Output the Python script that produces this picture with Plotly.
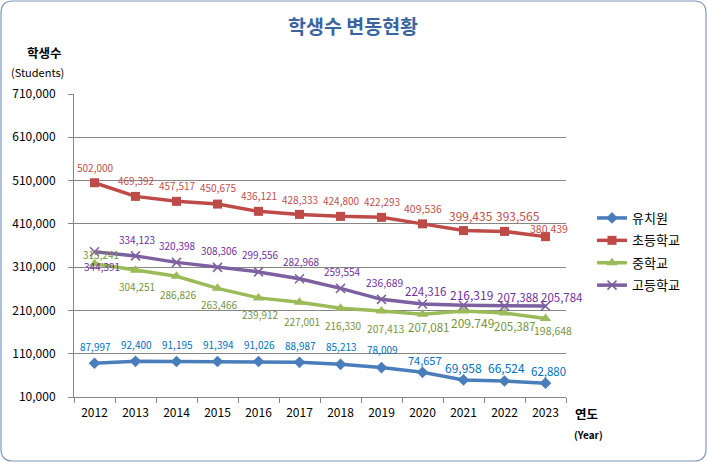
import plotly.graph_objects as go

years = ["2012", "2013", "2014", "2015", "2016", "2017", "2018", "2019", "2020", "2021", "2022", "2023"]

# plotted values
kinder_vals = [88000, 92400, 92000, 92000, 92000, 90000, 85500, 78000, 67000, 49500, 47000, 42000]
elem_vals = [505000, 473500, 462000, 455700, 438900, 431900, 427300, 425000, 410000, 394500, 392500, 380500]
middle_vals = [318000, 303000, 289000, 261000, 239000, 229000, 214800, 208600, 201000, 208700, 204000, 191500]
high_vals = [345600, 336000, 321000, 309500, 299000, 283000, 261000, 235600, 225000, 222000, 220000, 220000]

# data label texts (as printed on the chart)
kinder_labels = ["87,997", "92,400", "91,195", "91,394", "91,026", "88,987", "85,213", "78,009", "74,657", "69,958", "66,524", "62,880"]
elem_labels = ["502,000", "469,392", "457,517", "450,675", "436,121", "428,333", "424,800", "422,293", "409,536", "399,435", "393,565", "380,439"]
middle_labels = ["315,241", "304,251", "286,826", "263,466", "239,912", "227,001", "216,330", "207,413", "207,081", "209.749", "205,387", "198,648"]
high_labels = ["344,391", "334,123", "320,398", "308,306", "299,556", "282,968", "259,554", "236,689", "224,316", "216,319", "207,388", "205,784"]

series_names = ["유치원", "초등학교", "중학교", "고등학교"]

# label placement (pixel offsets from each marker) and label font sizes -- styling only
kinder_dx = [1, 0.5, 1, 1, 1, 1, 1, 1, 2.5, -0.5, 1.5, 2.5]
kinder_dy = [-17, -17, -17, -17, -17, -17, -17.6, -17.7, -12.3, -12.3, -13, -12.3]
kinder_fs = [10]*8 + [11, 12, 12, 11.5]
elem_dx = [0.8, 0.8, 1.2, 1, 0.5, 0.8, 0.5, 0.2, 0.5, 7.5, 13, 3.5]
elem_dy = [-15.6, -15.6, -15.6, -16.3, -16.3, -15.3, -16.3, -15.6, -15, -15, -15.7, -7.7]
elem_fs = [10]*8 + [10.5, 12, 12, 10.5]
middle_dx = [6.3, 1.2, 1.7, 1.7, 2.3, 2, 2.8, 3.5, 6.5, 8.5, 10.5, 7.5]
middle_dy = [-9.3, 16, 18.3, 16, 16.3, 19, 16.7, 17.3, 13, 12, 12.7, 12]
middle_fs = [10]*7 + [10.3, 11.5, 12, 11.5, 10.5]
high_dx = [7.8, 1.2, 1, 1.5, 1.5, 2, 2.3, 3.2, 3.5, 8.2, 13.5, 16.2]
high_dy = [15, -16.4, -17.3, -16.6, -17.4, -17, -16.6, -16.6, -13.3, -11, -9.3, -9.3]
high_fs = [10]*7 + [10.3, 11.5, 12, 11.5, 11.5]

W, H = 707, 462
L, R, T, B = 74, 566, 94, 397
PW, PH = R - L, B - T

def px(x):
    return (x - L) / PW

def py(y):
    return (B - y) / PH

FONT = "Noto Sans CJK KR, Malgun Gothic, sans-serif"

fig = go.Figure()

series = [
    (kinder_vals, kinder_labels, kinder_dx, kinder_dy, kinder_fs, "#4A7EBB", "#0070C0",
     dict(symbol="diamond", size=9, color="#4A7EBB")),
    (elem_vals, elem_labels, elem_dx, elem_dy, elem_fs, "#BE4B48", "#C0504D",
     dict(symbol="square", size=9, color="#BE4B48")),
    (middle_vals, middle_labels, middle_dx, middle_dy, middle_fs, "#9BBB59", "#77933C",
     dict(symbol="triangle-up", size=10, color="#9BBB59")),
    (high_vals, high_labels, high_dx, high_dy, high_fs, "#7D60A0", "#7030A0",
     dict(symbol="x-thin", size=9, color="#7D60A0", line=dict(color="#7D60A0", width=1.5))),
]

for i, (vals, labels, dxs, dys, fss, lc, tc, mk) in enumerate(series):
    fig.add_trace(go.Scatter(
        x=years, y=vals, name=series_names[i], legendgroup=str(i), mode="lines+markers",
        line=dict(color=lc, width=3.5), marker=mk, cliponaxis=False,
    ))
    for k, (v, lab, dx, dy, fs) in enumerate(zip(vals, labels, dxs, dys, fss)):
        # category axis position given by category index k (== years[k])
        fig.add_annotation(x=k, y=v, xref="x", yref="y", text=lab, showarrow=False,
                           xanchor="center", yanchor="middle", xshift=dx, yshift=-dy,
                           font=dict(family=FONT, size=fs, color=tc))

def rounded_rect(x0, y0, x1, y1, r):
    rx, ry = r / PW, r / PH
    X0, X1 = px(x0), px(x1)
    Y0, Y1 = py(y0), py(y1)  # Y0 top, Y1 bottom
    return (f"M {X0+rx},{Y0} L {X1-rx},{Y0} Q {X1},{Y0} {X1},{Y0-ry} "
            f"L {X1},{Y1+ry} Q {X1},{Y1} {X1-rx},{Y1} L {X0+rx},{Y1} "
            f"Q {X0},{Y1} {X0},{Y1+ry} L {X0},{Y0-ry} Q {X0},{Y0} {X0+rx},{Y0} Z")

fig.add_shape(type="path", xref="paper", yref="paper",
              path=rounded_rect(1, 1, 706, 461, 12),
              line=dict(color="#7E97BD", width=1.2), layer="below")

ann = [
    dict(text="<b>학생수 변동현황</b>", x=px(353), y=py(25), font=dict(size=19.5, color="#3B64A0")),
    dict(text="<b>학생수</b>", x=px(44), y=py(52), font=dict(size=12.5, color="#000000")),
    dict(text="(Students)", x=px(37), y=py(72), font=dict(size=11, color="#000000")),
    dict(text="<b>연도</b>", x=px(586), y=py(413), font=dict(size=12.5, color="#000000")),
    dict(text="<b>(Year)</b>", x=px(588), y=py(434), font=dict(size=10, color="#000000")),
]
for a in ann:
    fig.add_annotation(xref="paper", yref="paper", showarrow=False,
                       xanchor="center", yanchor="middle",
                       x=a["x"], y=a["y"], text=a["text"],
                       font=dict(family=FONT, **a["font"]))

fig.update_layout(
    width=W, height=H,
    margin=dict(l=L, r=W - R, t=T, b=H - B),
    paper_bgcolor="white", plot_bgcolor="white",
    font=dict(family=FONT, size=11, color="#000000"),
    showlegend=True,
    legend=dict(x=px(592), y=py(203), xanchor="left", yanchor="top",
                font=dict(family=FONT, size=13, color="#000000"),
                itemwidth=30, tracegroupgap=2.5, bgcolor="rgba(0,0,0,0)"),
    xaxis=dict(type="category", range=[-0.5, 11.5], tickson="boundaries",
               ticks="outside", ticklen=5, tickcolor="#868686",
               showline=True, linecolor="#868686", linewidth=1,
               ticklabelstandoff=5,
               showgrid=False, tickfont=dict(size=12, family=FONT), fixedrange=True),
    yaxis=dict(range=[10000, 710000], tick0=10000, dtick=100000,
               tickformat=",d", ticks="outside", ticklen=5, tickcolor="#868686",
               showline=True, linecolor="#868686", linewidth=1,
               ticklabelstandoff=10,
               gridcolor="#868686", gridwidth=1, zeroline=False,
               tickfont=dict(size=12, family=FONT), fixedrange=True),
)

fig.write_html("out.html")
